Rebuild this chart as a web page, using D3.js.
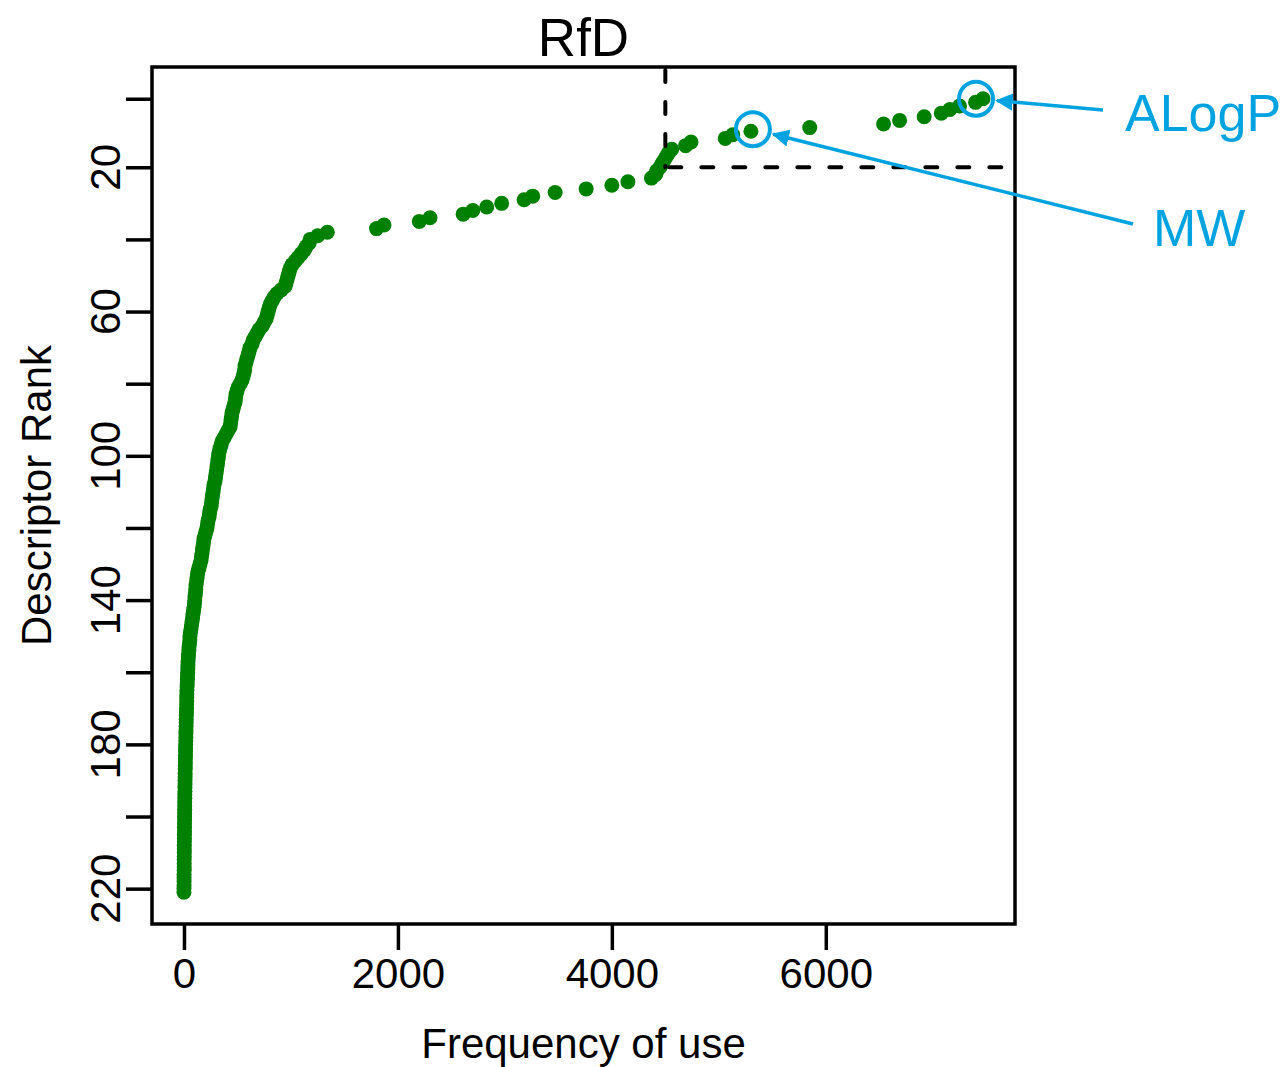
<!DOCTYPE html>
<html>
<head>
<meta charset="utf-8">
<script src="https://cdn.jsdelivr.net/npm/d3@7"></script>
<style>
body { margin: 0; background: #fff; }
text { font-family: "Liberation Sans", Arial, sans-serif; }
</style>
</head>
<body>
<script>
// frequency of use for each descriptor, ordered by rank (rank 1 = most used)
var frequency = [
    7470, 7400, 7250, 7160, 7080, 6920, 6690, 6540, 5850, 5300,
    5130, 5060, 4740, 4690, 4560, 4530, 4510, 4490, 4470, 4450,
    4420, 4410, 4370, 4150, 4000, 3760, 3470, 3260, 3180, 2970,
    2830, 2700, 2610, 2300, 2200, 1870, 1800, 1340, 1250, 1180,
    1171, 1143, 1124, 1096, 1068, 1040, 1012, 993, 984, 974,
    965, 955, 946, 909, 871, 843, 824, 806, 796, 787,
    778, 768, 749, 731, 703, 684, 665, 646, 637, 618,
    609, 600, 590, 581, 571, 568, 562, 553, 543, 525,
    506, 496, 487, 482, 478, 468, 459, 450, 445, 440,
    436, 431, 412, 393, 375, 356, 347, 337, 328, 323,
    318, 314, 309, 304, 300, 295, 290, 281, 276, 272,
    267, 262, 258, 253, 244, 239, 234, 225, 220, 215,
    206, 197, 187, 183, 178, 173, 169, 164, 159, 150,
    141, 131, 126, 122, 117, 112, 110, 108, 103, 101,
    98, 94, 89, 84, 80, 75, 70, 66, 61, 56,
    55, 52, 47, 46, 42, 41, 38, 37, 36, 35,
    33, 32, 31, 29, 28, 27, 26, 26, 25, 24,
    23, 22, 21, 21, 20, 19, 18, 18, 17, 16,
    15, 15, 14, 13, 13, 12, 12, 11, 11, 10,
    10, 9, 9, 8, 8, 7, 7, 7, 6, 6,
    6, 5, 5, 5, 4, 4, 4, 3, 3, 3,
    3, 2, 2, 2, 2, 1, 1, 1, 1, 0, 0
];
var rank = frequency.map(function (d, i) { return i + 1; });

var xTicks = [0, 2000, 4000, 6000];
var yTicks = [1, 20, 40, 60, 80, 100, 120, 140, 160, 180, 200, 220];
var yTickLabels = [20, 60, 100, 140, 180, 220];

// cut-off lines
var cutFrequency = 4500;
var cutRank = 20;

// highlighted descriptors
var labelNames = ['ALogP', 'MW'];
var labelRanks = [1, 10];

var width = 1287, height = 1067;
var plotLeft = 152, plotRight = 1015, plotTop = 67, plotBottom = 924;
var blue = '#00A3E0';

var svg = d3.select('body').append('svg')
    .attr('width', width)
    .attr('height', height);

// R-style 4% padding around the data
var xPad = (d3.max(frequency) - d3.min(frequency)) * 0.04;
var yPad = (d3.max(rank) - d3.min(rank)) * 0.04;

var x = d3.scaleLinear()
    .domain([d3.min(frequency) - xPad, d3.max(frequency) + xPad])
    .range([plotLeft, plotRight]);
var y = d3.scaleLinear()
    .domain([d3.min(rank) - yPad, d3.max(rank) + yPad])
    .range([plotTop, plotBottom]);

// points
svg.append('g').selectAll('circle')
    .data(frequency)
    .enter()
    .append('circle')
    .attr('cx', function (d) { return x(d); })
    .attr('cy', function (d, i) { return y(rank[i]); })
    .attr('r', 7.5)
    .attr('fill', '#008000');

// dashed cut-off lines
svg.append('line')
    .attr('x1', x(cutFrequency)).attr('x2', x(cutFrequency))
    .attr('y1', plotTop + 3).attr('y2', y(cutRank))
    .attr('stroke', '#000').attr('stroke-width', 4)
    .attr('stroke-dasharray', '12,20').attr('stroke-linecap', 'round');
svg.append('line')
    .attr('x1', x(cutFrequency) + 4).attr('x2', plotRight)
    .attr('y1', y(cutRank)).attr('y2', y(cutRank))
    .attr('stroke', '#000').attr('stroke-width', 4)
    .attr('stroke-dasharray', '12,20').attr('stroke-linecap', 'round');

// box
svg.append('rect')
    .attr('x', plotLeft).attr('y', plotTop)
    .attr('width', plotRight - plotLeft).attr('height', plotBottom - plotTop)
    .attr('fill', 'none').attr('stroke', '#000').attr('stroke-width', 3.5);

// x axis
var xAxis = svg.append('g')
    .attr('transform', 'translate(0,' + plotBottom + ')')
    .call(d3.axisBottom(x).tickValues(xTicks).tickSize(26).tickPadding(8).tickFormat(d3.format('d')));
xAxis.select('.domain').remove();
xAxis.selectAll('line').attr('stroke-width', 3.5);
xAxis.selectAll('text')
    .attr('font-size', 42)
    .attr('font-family', '"Liberation Sans", Arial, sans-serif')
    .attr('fill', '#000');

// y axis
var yAxis = svg.append('g')
    .attr('transform', 'translate(' + plotLeft + ',0)')
    .call(d3.axisLeft(y).tickValues(yTicks).tickSize(26).tickFormat(''));
yAxis.select('.domain').remove();
yAxis.selectAll('line').attr('stroke-width', 3.5);

svg.append('g').selectAll('text')
    .data(yTickLabels)
    .enter()
    .append('text')
    .attr('transform', function (d) { return 'translate(120,' + y(d) + ') rotate(-90)'; })
    .attr('text-anchor', 'middle')
    .attr('font-size', 42)
    .text(function (d) { return d; });

// titles
svg.append('text')
    .attr('x', (plotLeft + plotRight) / 2).attr('y', 56)
    .attr('text-anchor', 'middle')
    .attr('font-size', 53)
    .text('RfD');

svg.append('text')
    .attr('x', (plotLeft + plotRight) / 2).attr('y', 1058)
    .attr('text-anchor', 'middle')
    .attr('font-size', 42)
    .text('Frequency of use');

svg.append('text')
    .attr('transform', 'translate(51,' + (plotTop + plotBottom) / 2 + ') rotate(-90)')
    .attr('text-anchor', 'middle')
    .attr('font-size', 42)
    .text('Descriptor Rank');

// annotations
svg.append('defs').append('marker')
    .attr('id', 'head')
    .attr('viewBox', '0 0 10 10')
    .attr('refX', 9).attr('refY', 5)
    .attr('markerWidth', 5).attr('markerHeight', 5)
    .attr('orient', 'auto')
    .append('path')
    .attr('d', 'M0,0 L10,5 L0,10 Z')
    .attr('fill', blue);

var labelPos = [[1125, 131], [1153, 246]];
var arrowStart = [[1103, 110], [1133, 224]];
var circleShift = [[-7, 0], [2, -2]];

labelNames.forEach(function (name, k) {
    var f = frequency[labelRanks[k] - 1];
    var cx = x(f) + circleShift[k][0], cy = y(labelRanks[k]) + circleShift[k][1];
    svg.append('circle')
        .attr('cx', cx).attr('cy', cy).attr('r', 17)
        .attr('fill', 'none').attr('stroke', blue).attr('stroke-width', 4);
    // arrow ends just outside the circle
    var dx = arrowStart[k][0] - cx, dy = arrowStart[k][1] - cy;
    var len = Math.sqrt(dx * dx + dy * dy);
    svg.append('line')
        .attr('x1', arrowStart[k][0]).attr('y1', arrowStart[k][1])
        .attr('x2', cx + dx / len * 21).attr('y2', cy + dy / len * 21)
        .attr('stroke', blue).attr('stroke-width', 3.5)
        .attr('marker-end', 'url(#head)');
    svg.append('text')
        .attr('x', labelPos[k][0]).attr('y', labelPos[k][1])
        .attr('font-size', 52)
        .attr('fill', blue)
        .text(name);
});
</script>
</body>
</html>
